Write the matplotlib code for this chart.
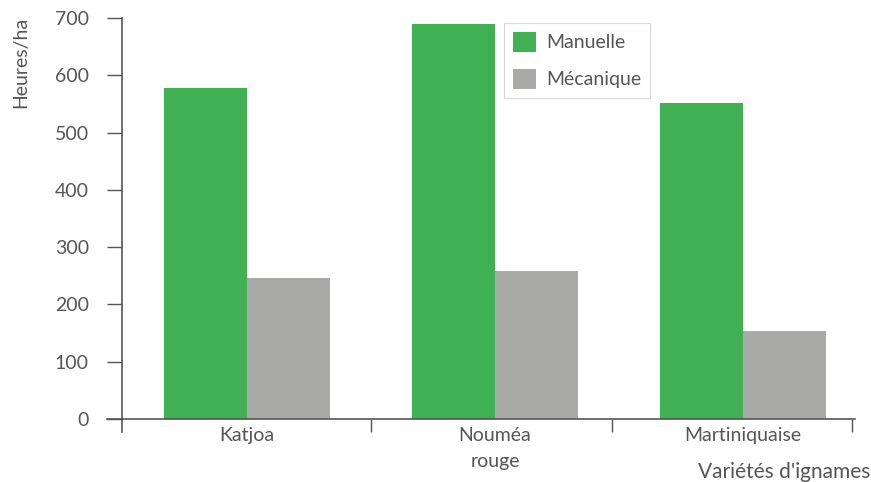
#!/usr/bin/env python3

import matplotlib
matplotlib.use("Agg")
import matplotlib.pyplot as plt
import numpy as np

categories = ["Katjoa", "Nouméa\nrouge", "Martiniquaise"]
manuelle = [578, 690, 552]
mecanique = [246, 258, 154]
yticks = [0, 100, 200, 300, 400, 500, 600, 700]
separators = [0.5, 1.47, 2.44]

plt.rcParams['font.family'] = ['Lato', 'DejaVu Sans']
txt = '#555555'

fig = plt.figure(figsize=(8.71, 4.82), dpi=100)
ax = fig.add_axes([107/871, 1-432/482, (855-107)/871, (432-18)/482])

x = np.arange(len(categories))
w = 0.335
ax.bar(x - w/2, manuelle, w, color='#40b153', label='Manuelle')
ax.bar(x + w/2, mecanique, w, color='#a9a9a7', label='Mécanique')

ax.set_xlim(-0.565, 2.452)
ax.set_ylim(-23, 700)

for s in ['top', 'right']:
  ax.spines[s].set_visible(False)
ax.spines['left'].set_position(('data', -0.504))
ax.spines['bottom'].set_position(('data', 0))
for s in ['left', 'bottom']:
  ax.spines[s].set_color('#555555')
  ax.spines[s].set_linewidth(1.2)

ax.set_yticks(yticks)
ax.tick_params(axis='y', direction='out', length=11, width=1, color='#555555',
               labelsize=14, labelcolor=txt, pad=13)
ax.set_xticks(separators)
ax.set_xticklabels([])
ax.tick_params(axis='x', direction='out', length=9, width=1, color='#555555')

for xi, lab in zip(x, categories):
  ax.text(xi, -14, lab, ha='center', va='top', fontsize=14, color=txt,
          linespacing=1.65)

fig.text(21/871, 1-62/482, "Heures/ha", rotation=90, ha='center', va='center',
         fontsize=14, color=txt)
fig.text(870/871, 1-472/482, "Variétés d'ignames", ha='right', va='center',
         fontsize=15, color=txt)

leg = ax.legend(loc='upper left', bbox_to_anchor=(504/871, 1-23/482),
                bbox_transform=fig.transFigure, fontsize=14, frameon=True,
                fancybox=False, handlelength=1.2, handleheight=1.23,
                borderaxespad=0, handletextpad=0.5, labelspacing=0.85,
                borderpad=0.45)
leg.get_frame().set_edgecolor('#cccccc')
leg.get_frame().set_linewidth(0.8)
for t in leg.get_texts():
  t.set_color(txt)

fig.savefig("out.png", dpi=100)
